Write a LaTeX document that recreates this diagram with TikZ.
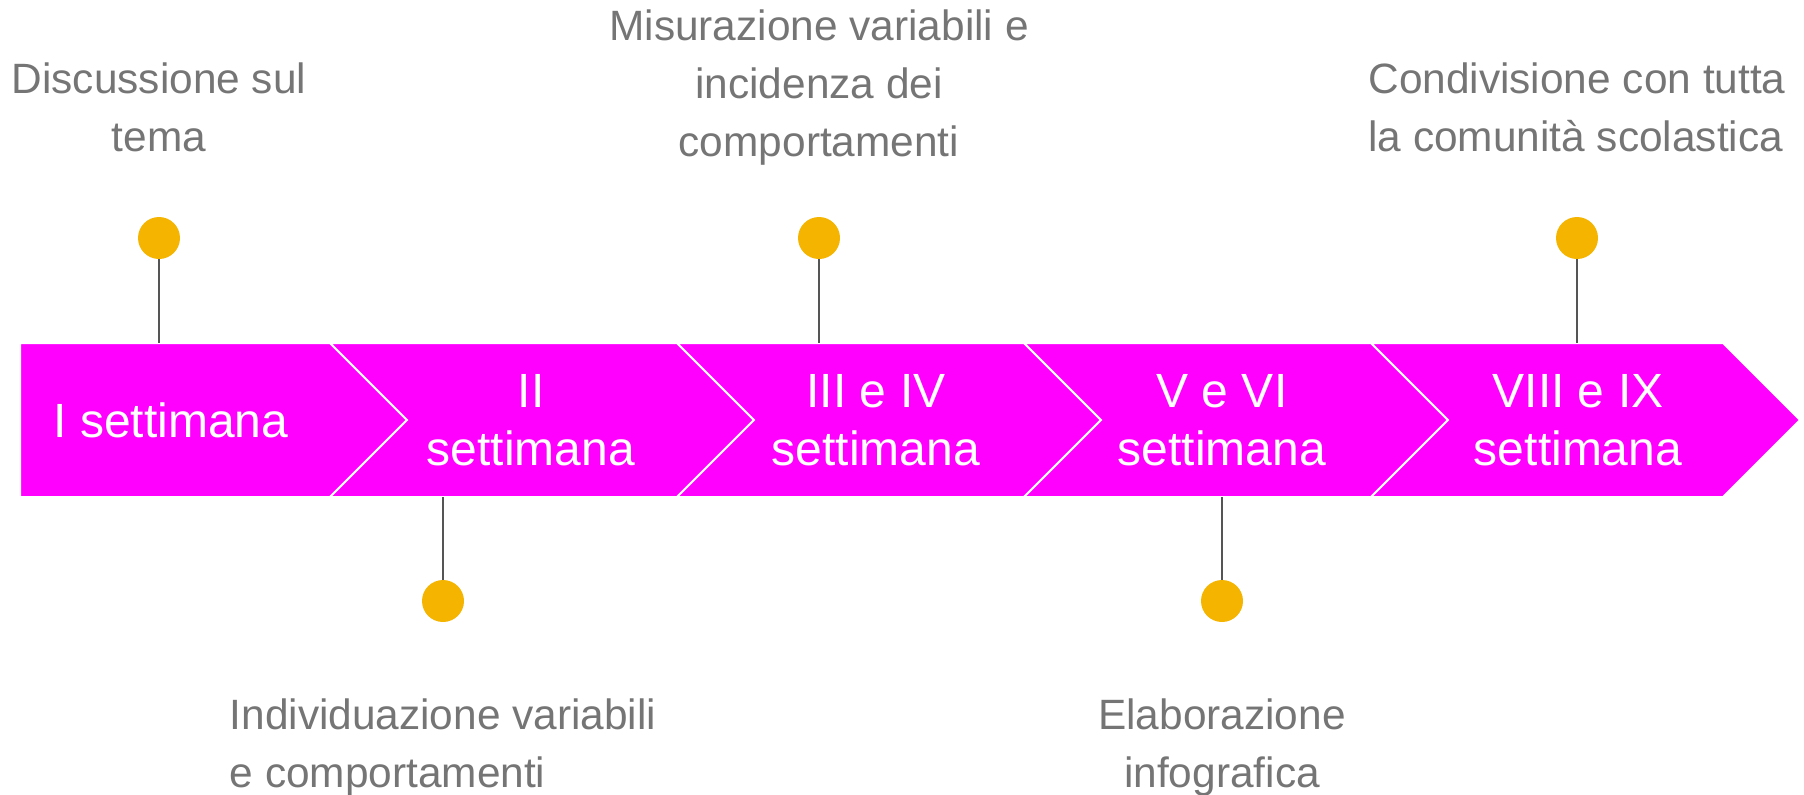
\documentclass[tikz,border=0pt]{standalone}
\usepackage{fontspec}
\setmainfont{Liberation Sans}
\usepackage{xcolor}
\usepackage{tikz}
\usetikzlibrary{positioning,calc}

\definecolor{bandpink}{HTML}{FF00FF}
\definecolor{dotyellow}{HTML}{F4B400}
\definecolor{labelgray}{HTML}{757575}
\definecolor{stemgray}{HTML}{555555}

\tikzset{
  chevron/.style={fill=bandpink, draw=white, line width=1pt, line join=miter},
  weektext/.style={text=white, align=center, inner sep=0pt, font=\fontsize{24}{29}\selectfont},
  marker/.style={circle, fill=dotyellow, minimum size=21pt, inner sep=0pt},
  stem/.style={draw=stemgray, line width=1.1pt},
  milestone/.style={text=labelgray, inner sep=0pt, font=\fontsize{21.2}{29}\selectfont}
}

\begin{document}
\begin{tikzpicture}[x=0.5pt, y=-0.5pt]
  \useasboundingbox (0,0) rectangle (1804,794);

  % Band of weeks
  \path[chevron] (20,343) -- (330,343) -- ++(77,77) -- (330,497) -- (20,497) -- cycle;
  \foreach \a/\b in {330/677, 677/1024, 1024/1371, 1371/1723} {
    \path[chevron] (\a,343) -- (\b,343) -- ++(77,77) -- (\b,497) -- (\a,497) -- ++(77,-77) -- cycle;
  }

  % Week names
  \foreach \n/\x/\t in {1/171/I settimana, 2/531/II\\settimana, 3/876/III e IV\\settimana,
                        4/1222/V e VI\\settimana, 5/1578/VIII e IX\\settimana} {
    \node[weektext] (week\n) at (\x,420) {\t};
  }

  % Markers and stems
  \foreach \n/\x/\y/\e in {1/159/238/343, 2/443/601/497, 3/819/238/343, 4/1222/601/497, 5/1577/238/343} {
    \node[marker] (dot\n) at (\x,\y) {};
    \coordinate (foot\n) at (\x,\e);
    \draw[stem] (dot\n) -- (foot\n);
  }

  % Activities
  \node[milestone, align=center, above=32pt of dot1] (act1) {Discussione sul\\tema};
  \node[milestone, align=left, below=38pt of dot2] (act2) {Individuazione variabili\\e comportamenti};
  \node[milestone, align=center, above=25.5pt of dot3] (act3) {Misurazione variabili e\\incidenza dei\\comportamenti};
  \node[milestone, align=center, below=38pt of dot4] (act4) {Elaborazione\\infografica};
  \node[milestone, align=left, above=32pt of dot5] (act5) {Condivisione con tutta\\la comunità scolastica};
\end{tikzpicture}
\end{document}
